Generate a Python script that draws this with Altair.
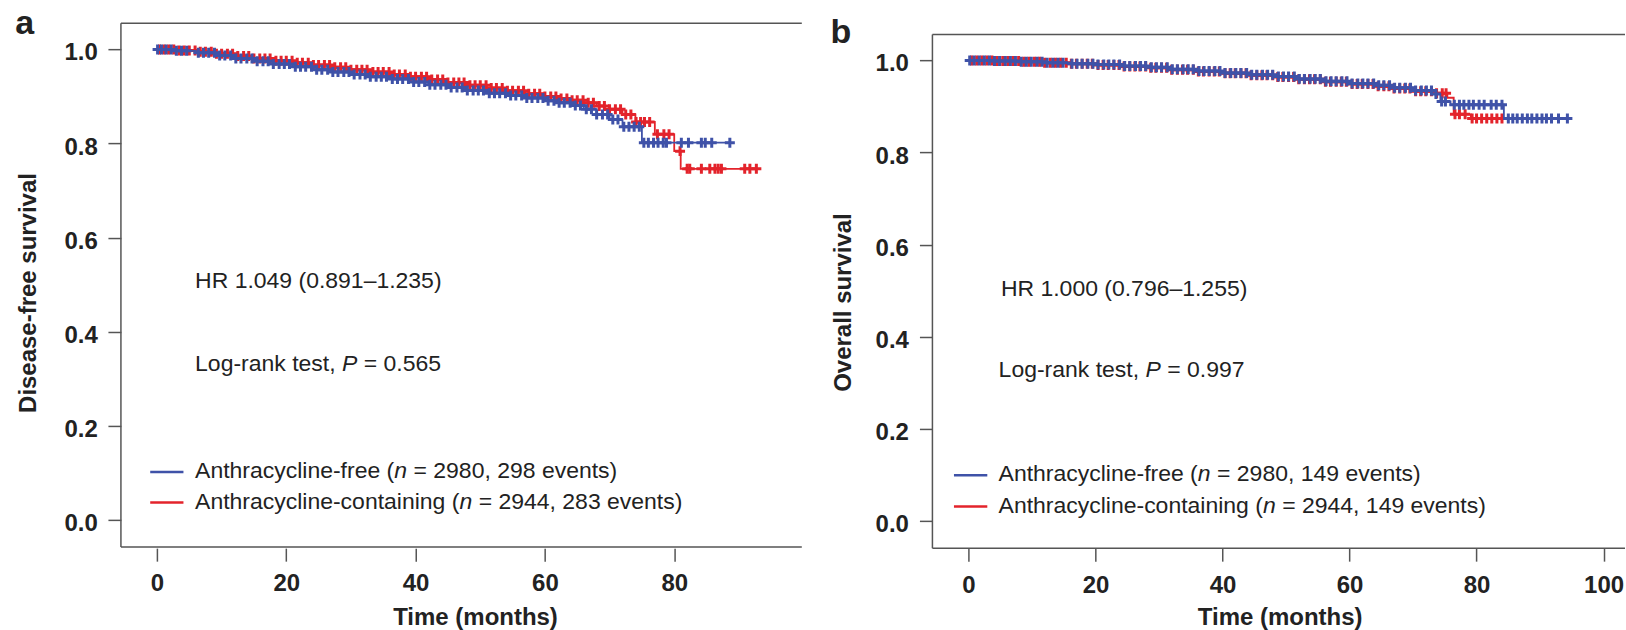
import altair as alt
import pandas as pd

# ---------------- data ----------------
# (a) Disease-free survival, Kaplan-Meier step knots: time (months) -> survival
a_free_t = [0, 3, 6, 9, 12, 15, 18, 21, 24, 27, 30, 33, 36, 39, 42, 45, 48, 51, 54, 57,
            60, 62, 64, 66, 68, 70, 72, 75, 88.6]
a_free_s = [1.0, 0.997, 0.993, 0.987, 0.981, 0.975, 0.969, 0.963, 0.957, 0.952, 0.947,
            0.942, 0.937, 0.931, 0.925, 0.919, 0.913, 0.907, 0.902, 0.897, 0.891, 0.887,
            0.881, 0.873, 0.862, 0.851, 0.836, 0.802, 0.802]
a_cont_t = [0, 3, 6, 9, 12, 15, 18, 21, 24, 27, 30, 33, 36, 39, 42, 45, 48, 51, 54, 57,
            60, 62, 64, 66, 68, 70, 72, 74, 77, 80, 81, 92.7]
a_cont_s = [1.0, 0.998, 0.995, 0.991, 0.986, 0.981, 0.976, 0.972, 0.967, 0.962, 0.957,
            0.952, 0.947, 0.942, 0.936, 0.930, 0.924, 0.918, 0.912, 0.906, 0.900, 0.896,
            0.892, 0.887, 0.880, 0.873, 0.862, 0.846, 0.820, 0.784, 0.7465, 0.7465]
# censoring times (months)
a_free_c = [0.1, 0.7, 1.4, 2.2, 3.0, 3.8, 4.6, 6.4, 7.2, 8.0, 8.9, 9.7, 10.5, 11.4, 12.2,
            13.0, 13.9, 14.7, 15.5, 16.4, 17.2, 18.0, 18.9, 19.7, 20.5, 21.4, 22.2, 23.0,
            23.9, 24.7, 25.5, 26.4, 27.2, 28.0, 28.9, 29.7, 30.5, 31.4, 32.2, 33.0, 33.9,
            34.7, 35.5, 36.4, 37.2, 38.0, 38.9, 39.7, 40.5, 41.4, 42.2, 43.0, 43.9, 44.7,
            45.5, 46.4, 47.2, 48.0, 48.9, 49.7, 50.5, 51.4, 52.2, 53.0, 53.9, 54.7, 55.5,
            56.4, 57.2, 58.0, 58.9, 59.7, 60.5, 61.4, 62.2, 63.0, 63.9, 64.7, 65.5, 66.4,
            67.2, 68.0, 68.9, 69.7, 70.5, 71.3, 72.2, 73.0, 73.8, 74.6, 75.3, 76.0, 76.8,
            77.5, 78.3, 78.8, 81.1, 82.2, 84.2, 84.8, 85.8, 88.6]
a_cont_c = [0.4, 1.1, 1.8, 2.6, 3.4, 4.2, 5.0, 5.9, 6.7, 7.5, 8.4, 9.2, 10.0, 10.9, 11.7,
            12.5, 13.4, 14.2, 15.0, 15.9, 16.7, 17.5, 18.4, 19.2, 20.0, 20.9, 21.7, 22.5,
            23.4, 24.2, 25.0, 25.9, 26.7, 27.5, 28.4, 29.2, 30.0, 30.9, 31.7, 32.5, 33.4,
            34.2, 35.0, 35.9, 36.7, 37.5, 38.4, 39.2, 40.0, 40.9, 41.7, 42.5, 43.4, 44.2,
            45.0, 45.9, 46.7, 47.5, 48.4, 49.2, 50.0, 50.9, 51.7, 52.5, 53.4, 54.2, 55.0,
            55.9, 56.7, 57.5, 58.4, 59.2, 60.0, 60.9, 61.7, 62.5, 63.4, 64.2, 65.0, 65.9,
            66.7, 67.5, 68.4, 69.2, 70.0, 70.9, 71.7, 72.5, 73.3, 74.1, 74.8, 75.4, 76.2,
            77.4, 78.4, 79.2, 80.9, 82.0, 82.4, 84.2, 85.5, 86.3, 86.8, 87.3, 90.9, 91.7,
            92.7]

# (b) Overall survival
b_free_t = [0, 4, 8, 12, 16, 20, 24, 28, 32, 36, 40, 44, 48, 52, 56, 60, 64, 67, 70, 73,
            74.3, 75.9, 84.3, 94.3]
b_free_s = [1.0, 0.999, 0.997, 0.995, 0.993, 0.991, 0.988, 0.985, 0.981, 0.977, 0.973,
            0.969, 0.965, 0.960, 0.955, 0.950, 0.946, 0.941, 0.935, 0.927, 0.911, 0.904,
            0.874, 0.874]
b_cont_t = [0, 4, 8, 12, 16, 20, 24, 28, 32, 36, 40, 44, 48, 52, 56, 60, 64, 67, 70, 73,
            75.4, 76.4, 79.1, 84.3]
b_cont_s = [1.0, 0.999, 0.997, 0.995, 0.993, 0.990, 0.987, 0.984, 0.980, 0.976, 0.972,
            0.968, 0.964, 0.959, 0.954, 0.949, 0.944, 0.939, 0.933, 0.929, 0.919, 0.883,
            0.874, 0.874]
b_free_c = [0.2, 0.9, 1.7, 2.5, 3.3, 4.1, 4.9, 5.8, 6.6, 7.4, 8.3, 9.1, 9.9, 10.8, 11.6,
            12.4, 13.3, 14.1, 14.9, 16.3, 17.1, 17.9, 18.8, 19.6, 20.4, 21.3, 22.1, 22.9,
            23.8, 24.6, 25.4, 26.3, 27.1, 27.9, 28.8, 29.6, 30.4, 31.3, 32.1, 32.9, 33.8,
            34.6, 35.4, 36.3, 37.1, 37.9, 38.8, 39.6, 40.4, 41.3, 42.1, 42.9, 43.8, 44.6,
            45.4, 46.3, 47.1, 47.9, 48.8, 49.6, 50.4, 51.3, 52.1, 52.9, 53.8, 54.6, 55.4,
            56.3, 57.1, 57.9, 58.8, 59.6, 60.4, 61.3, 62.1, 62.9, 63.8, 64.6, 65.4, 66.3,
            67.1, 67.9, 68.8, 69.6, 70.4, 71.3, 72.1, 72.9, 73.6, 74.5, 75.1, 76.5, 77.3,
            78.0, 78.8, 79.5, 80.4, 81.2, 82.3, 83.1, 84.0, 85.0, 85.7, 86.4, 87.2, 88.0,
            88.7, 89.5, 90.3, 91.0, 91.8, 92.9, 94.3]
b_cont_c = [0.5, 1.3, 2.1, 2.9, 3.7, 4.5, 5.4, 6.2, 7.0, 7.9, 8.7, 9.5, 10.4, 11.2, 12.0,
            12.9, 13.7, 14.5, 15.4, 16.2, 17.0, 17.9, 18.7, 19.5, 20.4, 21.2, 22.0, 22.9,
            23.7, 24.5, 25.4, 26.2, 27.0, 27.9, 28.7, 29.5, 30.4, 31.2, 32.0, 32.9, 33.7,
            34.5, 35.4, 36.2, 37.0, 37.9, 38.7, 39.5, 40.4, 41.2, 42.0, 42.9, 43.7, 44.5,
            45.4, 46.2, 47.0, 47.9, 48.7, 49.5, 50.4, 51.2, 52.0, 52.9, 53.7, 54.5, 55.4,
            56.2, 57.0, 57.9, 58.7, 59.5, 60.4, 61.2, 62.0, 62.9, 63.7, 64.5, 65.4, 66.2,
            67.0, 67.9, 68.7, 69.5, 70.4, 71.2, 72.0, 72.9, 73.7, 74.6, 75.2, 76.6, 77.3,
            78.2, 79.3, 80.0, 80.8, 81.6, 82.4, 83.2, 84.0]

# text content
a_hr, a_p = "HR 1.049 (0.891–1.235)", "0.565"
b_hr, b_p = "HR 1.000 (0.796–1.255)", "0.997"
groups = ["Anthracycline-free", "Anthracycline-containing"]
group_n = [2980, 2944]
a_events = [298, 283]
b_events = [149, 149]
x_ticks_a = [0, 20, 40, 60, 80]
x_ticks_b = [0, 20, 40, 60, 80, 100]
y_ticks = [0.0, 0.2, 0.4, 0.6, 0.8, 1.0]

# ---------------- style ----------------
BLUE = "#3f52a8"
RED = "#e3232b"
FONT = "Liberation Sans"
TXT = "#222222"
FRAME = "#555555"
TSIZE = 23

# Arial/Liberation Sans advance widths (per 1000 em) for offsetting italic pieces
W = {' ': 278, '(': 333, ')': 333, ',': 278, '-': 333, '.': 278, '=': 584,
     '–': 556, 'A': 667, 'H': 722, 'L': 556, 'P': 667, 'R': 722,
     'a': 556, 'c': 500, 'e': 556, 'f': 278, 'g': 556, 'h': 556, 'i': 222, 'k': 500,
     'l': 222, 'n': 556, 'o': 556, 'r': 333, 's': 500, 't': 278, 'v': 500, 'y': 500}


def tw(s, size):
    return sum(W.get(c, 556) for c in s) * size / 1000.0


def step_at(ts, ss, t):
    v = ss[0]
    for ti, si in zip(ts, ss):
        if ti <= t:
            v = si
    return v


PLUS = "M-1,0L1,0M0,-1L0,1"


def build_panel(p):
    xs = alt.Scale(domain=p["xdom"], nice=False, zero=False)
    ys = alt.Scale(domain=p["ydom"], nice=False, zero=False)
    xaxis = alt.Axis(values=p["xticks"], format="d", title="Time (months)",
                     labelPadding=p["xlabpad"], labelFlush=False,
                     titleX=p["xtitleX"], titleY=76.5, titleBaseline="alphabetic",
                     titleAlign="center")
    yaxis = alt.Axis(values=y_ticks, format=".1f", title=p["ytitle"],
                     labelPadding=p["ylabpad"], labelOffset=3.5,
                     titleX=p["ytitleX"], titleY=p["ytitleY"], titleAngle=270,
                     titleBaseline="alphabetic", titleAlign="center")

    def X():
        return alt.X("t:Q", scale=xs, axis=xaxis)

    def Y():
        return alt.Y("s:Q", scale=ys, axis=yaxis)

    layers = []
    fr = pd.DataFrame(p["frame"], columns=["t", "t2", "s", "s2"])
    layers.append(alt.Chart(fr).mark_rule(color=FRAME, strokeWidth=1.5)
                  .encode(x=X(), x2="t2:Q", y=Y(), y2="s2:Q"))
    for ts, ss, cs, col in p["curves"]:
        dl = pd.DataFrame({"t": ts, "s": ss})
        layers.append(alt.Chart(dl).mark_line(interpolate="step-after", color=col,
                                              strokeWidth=1.8).encode(x=X(), y=Y()))
        dc = pd.DataFrame({"t": cs, "s": [step_at(ts, ss, c) for c in cs]})
        layers.append(alt.Chart(dc).mark_point(shape=PLUS, size=100, filled=False,
                                               strokeWidth=3, color=col, opacity=1)
                      .encode(x=X(), y=Y()))
    # legend lines
    for t1, t2, s, col in p["leglines"]:
        d = pd.DataFrame({"t": [t1], "t2": [t2], "s": [s]})
        layers.append(alt.Chart(d).mark_rule(color=col, strokeWidth=2.5)
                      .encode(x=X(), x2="t2:Q", y=Y()))
    # texts made of pieces (normal / italic); leading spaces become offsets
    for t, s, pieces, size, weight in p["texts"]:
        off = 0.0
        for txt, style in pieces:
            stripped = txt.lstrip(" ")
            off += tw(txt[:len(txt) - len(stripped)], size)
            d = pd.DataFrame({"t": [t], "s": [s], "txt": [stripped]})
            layers.append(alt.Chart(d).mark_text(align="left", baseline="alphabetic",
                                                 dx=off, font=FONT, fontSize=size,
                                                 fontStyle=style, fontWeight=weight,
                                                 color=TXT)
                          .encode(x=X(), y=Y(), text="txt:N"))
            off += tw(stripped, size)
    return alt.layer(*layers).properties(width=p["width"], height=p["height"])


def legend_pieces(i, events):
    return [(groups[i] + " (", "normal"), ("n", "italic"),
            (" = %d, %d events)" % (group_n[i], events[i]), "normal")]


def logrank_pieces(pval):
    return [("Log-rank test, ", "normal"), ("P", "italic"), (" = " + pval, "normal")]


panel_a = dict(
    xdom=[-5.57, 99.73], ydom=[-0.0594, 1.0558], width=681.3, height=525.3,
    xticks=x_ticks_a, xlabpad=10.6, xtitleX=354.3,
    ytitle="Disease-free survival", ylabpad=10.7, ytitleX=-85.7, ytitleY=269.5,
    frame=[[-5.57, 99.73, 1.0558, 1.0558], [-5.57, -5.57, -0.0567, 1.0558],
           [-5.57, 99.73, -0.0567, -0.0567]],
    curves=[(a_cont_t, a_cont_s, a_cont_c, RED), (a_free_t, a_free_s, a_free_c, BLUE)],
    leglines=[(-1.04, 4.1, 0.1025, BLUE), (-1.04, 4.1, 0.0374, RED)],
    texts=[(5.9, 0.4926, [(a_hr, "normal")], TSIZE, "normal"),
           (5.9, 0.317, logrank_pieces(a_p), TSIZE, "normal"),
           (5.9, 0.0892, legend_pieces(0, a_events), TSIZE, "normal"),
           (5.9, 0.0234, legend_pieces(1, a_events), TSIZE, "normal"),
           (-21.9, 1.0325, [("a", "normal")], 34, "bold")],
)

panel_b = dict(
    xdom=[-5.67, 103.37], ydom=[-0.0586, 1.0809], width=693, height=525.3,
    xticks=x_ticks_b, xlabpad=12.4, xtitleX=347.5,
    ytitle="Overall survival", ylabpad=11, ytitleX=-82, ytitleY=279,
    frame=[[-5.67, 103.37, 1.0564, 1.0564], [-5.67, -5.67, -0.0586, 1.0564],
           [-5.67, 103.37, -0.0586, -0.0586]],
    curves=[(b_cont_t, b_cont_s, b_cont_c, RED), (b_free_t, b_free_s, b_free_c, BLUE)],
    leglines=[(-2.28, 2.97, 0.0998, BLUE), (-2.28, 2.97, 0.0317, RED)],
    texts=[(5.11, 0.4887, [(b_hr, "normal")], TSIZE, "normal"),
           (4.75, 0.313, logrank_pieces(b_p), TSIZE, "normal"),
           (4.75, 0.0874, legend_pieces(0, b_events), TSIZE, "normal"),
           (4.75, 0.0187, legend_pieces(1, b_events), TSIZE, "normal"),
           (-21.7, 1.0375, [("b", "normal")], 34, "bold")],
)

chart = alt.hconcat(build_panel(panel_a), build_panel(panel_b), spacing=130,
                    bounds="flush").properties(
    padding={"left": 15, "top": 6, "right": 0, "bottom": 0},
    background="white",
).configure_view(stroke=None).configure_axis(
    labelFont=FONT, labelFontSize=24, labelFontWeight="bold", labelColor=TXT,
    titleFont=FONT, titleFontSize=24, titleFontWeight="bold", titleColor=TXT,
    tickColor=FRAME, tickWidth=1.5, tickSize=13, domain=False, grid=False,
)

chart.save("out.html", embed_options={"renderer": "svg", "actions": False})
